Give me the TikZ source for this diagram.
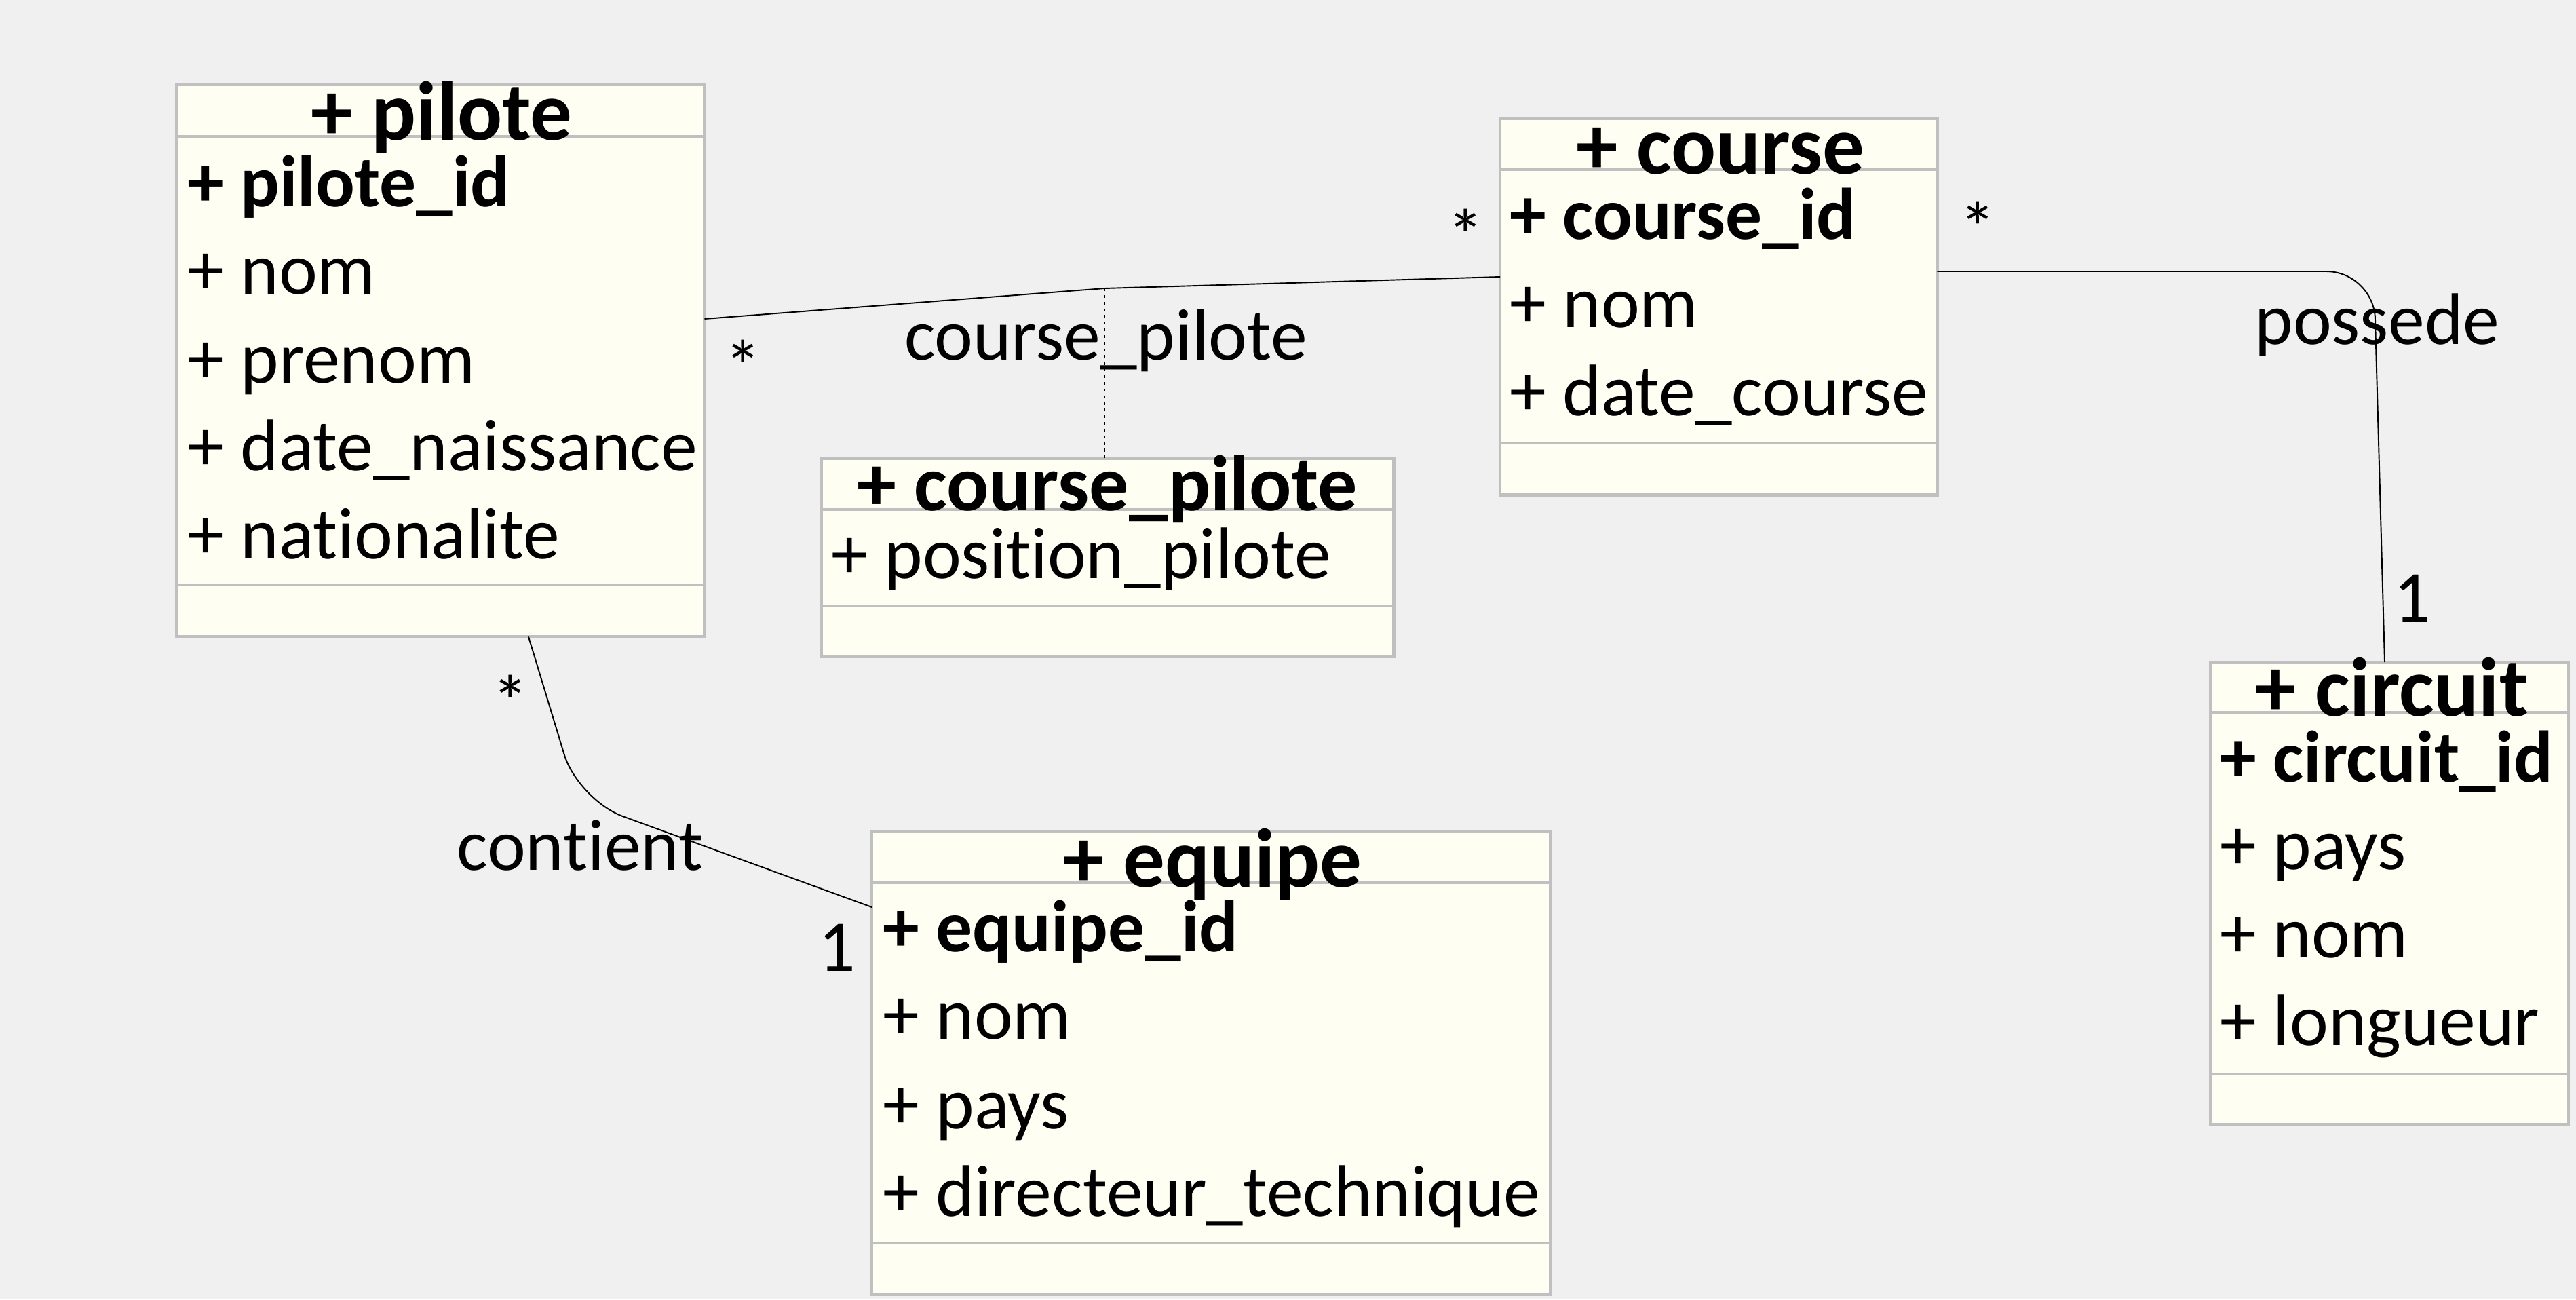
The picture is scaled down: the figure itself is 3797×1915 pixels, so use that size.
\documentclass[tikz,border=0pt]{standalone}
\usepackage{fontspec}
\setmainfont{Carlito}[Ligatures={NoCommon,NoRequired,NoContextual}]
\usetikzlibrary{calc}
\definecolor{bgcol}{RGB}{240,240,240}
\definecolor{boxfill}{RGB}{254,254,242}
\definecolor{boxline}{RGB}{192,192,192}
\begin{document}
\begin{tikzpicture}[x=0.01cm,y=-0.01cm,
  classbox/.style={draw=boxline, line width=1.3pt, fill=boxfill, anchor=north west, inner sep=0pt, outer sep=0pt},
  sepline/.style={draw=boxline, line width=1.3pt},
  titletext/.style={anchor=base, font=\fontsize{35}{40}\selectfont\bfseries, inner sep=0pt},
  attr/.style={anchor=base west, font=\fontsize{30.6}{36}\selectfont, inner sep=0pt},
  keyattr/.style={anchor=base west, font=\fontsize{30.6}{36}\selectfont\bfseries, inner sep=0pt},
  assoc/.style={draw=black, line width=0.55pt},
  linkdot/.style={draw=black, line width=0.55pt, dash pattern=on 1.2pt off 1.6pt},
  lbl/.style={font=\fontsize{30.6}{36}\selectfont, inner sep=0pt},
]
\fill[bgcol] (0,0) rectangle (3797,1915);
\useasboundingbox (0,0) rectangle (3797,1915);

% ---- boxes ----
\node[classbox, minimum width=7.78cm, minimum height=8.13cm] (pilote) at (260,125) {};
\node[classbox, minimum width=6.44cm, minimum height=5.54cm] (course) at (2211,175) {};
\node[classbox, minimum width=8.43cm, minimum height=2.92cm] (coursepilote) at (1211,676) {};
\node[classbox, minimum width=5.27cm, minimum height=6.81cm] (circuit) at (3258,976) {};
\node[classbox, minimum width=10.00cm, minimum height=6.81cm] (equipe) at (1285,1226) {};

% ---- separators ----
\draw[sepline] (pilote.west |- 0,201) -- (pilote.east |- 0,201);
\draw[sepline] (pilote.west |- 0,862) -- (pilote.east |- 0,862);
\draw[sepline] (course.west |- 0,250) -- (course.east |- 0,250);
\draw[sepline] (course.west |- 0,653) -- (course.east |- 0,653);
\draw[sepline] (coursepilote.west |- 0,751) -- (coursepilote.east |- 0,751);
\draw[sepline] (coursepilote.west |- 0,893) -- (coursepilote.east |- 0,893);
\draw[sepline] (circuit.west |- 0,1050) -- (circuit.east |- 0,1050);
\draw[sepline] (circuit.west |- 0,1583) -- (circuit.east |- 0,1583);
\draw[sepline] (equipe.west |- 0,1301) -- (equipe.east |- 0,1301);
\draw[sepline] (equipe.west |- 0,1832) -- (equipe.east |- 0,1832);

% ---- pilote ----
\node[titletext] (piloteT) at (651,206) {+ pilote};
\node[keyattr] (piloteA1) at (276,304) {+ pilote\_id};
\node[attr] (piloteA2) at (276,433) {+ nom};
\node[attr] (piloteA3) at (276,564) {+ prenom};
\node[attr] (piloteA4) at (276,693) {+ date\_naissance};
\node[attr] (piloteA5) at (276,823) {+ nationalite};

% ---- course ----
\node[titletext] (courseT) at (2536,256) {+ course};
\node[keyattr] (courseA1) at (2225,352) {+ course\_id};
\node[attr] (courseA2) at (2225,482) {+ nom};
\node[attr] (courseA3) at (2225,612) {+ date\_course};

% ---- course_pilote ----
\node[titletext, font=\fontsize{33}{38}\selectfont\bfseries] (cpT) at (1632,752) {+ course\_pilote};
\node[attr] (cpA1) at (1225,852) {+ position\_pilote};

% ---- circuit ----
\node[titletext] (circuitT) at (3525,1055) {+ circuit};
\node[keyattr] (circuitA1) at (3272,1152) {+ circuit\_id};
\node[attr] (circuitA2) at (3272,1281) {+ pays};
\node[attr] (circuitA3) at (3272,1411) {+ nom};
\node[attr] (circuitA4) at (3272,1540) {+ longueur};

% ---- equipe ----
\node[titletext] (equipeT) at (1787,1307) {+ equipe};
\node[keyattr] (equipeA1) at (1301,1402) {+ equipe\_id};
\node[attr] (equipeA2) at (1301,1531) {+ nom};
\node[attr] (equipeA3) at (1301,1663) {+ pays};
\node[attr] (equipeA4) at (1301,1792) {+ directeur\_technique};

% ---- connectors ----
\coordinate (cpb) at (1628,425);
\draw[assoc] (pilote.east |- 0,470) -- (cpb) -- (course.west |- 0,408);
\draw[linkdot] (cpb) -- (cpb |- coursepilote.north);
\coordinate (possbend) at (3499,400);
\draw[assoc, rounded corners=0.7cm] (course.east |- 0,400) -- (possbend) -- (circuit.north -| 3515,0);
\coordinate (contbend) at (852,1179);
\draw[assoc, rounded corners=0.7cm] (pilote.south -| 779,0) -- (contbend) -- (equipe.west |- 0,1337);

% ---- labels ----
\node[lbl, anchor=base] (lblcp) at (1630,530) {course\_pilote};
\node[lbl, anchor=base] (lblposs) at (3504,507) {possede};
\node[lbl, anchor=base] (lblcont) at (855,1282) {contient};
\node[lbl, anchor=north] (m1) at (1095,500) {*};
\node[lbl, anchor=north] (m2) at (2160,307) {*};
\node[lbl, anchor=north] (m3) at (2915,296) {*};
\node[lbl, anchor=north] (m4) at (752,994) {*};
\node[lbl, anchor=base] (m5) at (1234,1431) {1};
\node[lbl, anchor=base] (m6) at (3556,916) {1};
\end{tikzpicture}
\end{document}
